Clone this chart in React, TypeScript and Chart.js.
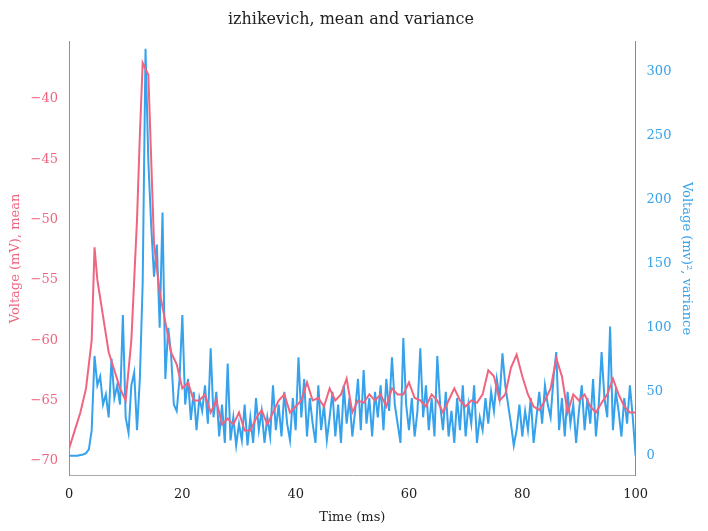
import { useEffect, useRef } from 'react'
import { Chart, registerables } from 'chart.js'

Chart.register(...registerables)

const meanTime = [0, 1, 2, 3, 4, 4.5, 5, 6, 7, 8, 9, 10, 11, 12, 12.5, 13, 14, 15, 16, 17, 18, 19, 20,
  21, 22, 23, 24, 25, 26, 27, 28, 29, 30, 31, 32, 33, 34, 35, 36, 37, 38, 39, 40, 41, 42, 43, 44, 45, 46,
  47, 48, 49, 50, 51, 52, 53, 54, 55, 56, 57, 58, 59, 60, 61, 62, 63, 64, 65, 66, 67, 68, 69, 70, 71, 72,
  73, 74, 75, 76, 77, 78, 79, 80, 81, 82, 83, 84, 85, 86, 87, 88, 89, 90, 91, 92, 93, 94, 95, 96, 97, 98, 99, 100]
const meanV = [-69, -67.5, -66, -64, -60, -52.3, -55, -58, -61, -62.5, -64, -65, -60, -50, -43, -37, -38, -52, -56, -58.5, -61, -62, -64,
  -63.5, -65, -65, -64.5, -66, -65, -67, -66.5, -67, -66, -67.5, -67.5, -66.5, -65.8, -67, -66, -65, -64.5, -66, -65.5, -65, -63.5, -65, -64.8, -65.5, -64,
  -65, -64.5, -63.2, -66, -65, -65.2, -64.5, -65, -64.5, -65.5, -64, -64.5, -64.5, -63.5, -64.8, -65, -65.5, -64.5, -65, -66, -65, -64, -65, -65.5, -65, -65.2,
  -64.5, -62.5, -63, -65, -64.5, -62.3, -61.2, -63, -64.5, -65.5, -65.8, -65, -64, -61.5, -63, -66, -64.5, -65, -64.5, -65.5, -66, -65.2, -64.5, -63.2, -64.5, -65.5, -66, -66]

const varStep = 0.5
const varV = [
  0, 0, 0, 0, 0.5, 1, 2, 5, 20, 78,
  55, 62, 40, 48, 30, 76, 45, 55, 40, 110,
  30, 18, 55, 65, 20, 60, 135, 318, 230, 180,
  140, 165, 100, 190, 60, 100, 80, 40, 35, 60,
  110, 40, 60, 28, 50, 20, 45, 35, 55, 25,
  84, 30, 50, 15, 40, 10, 72, 12, 30, 8,
  25, 12, 40, 8, 30, 10, 45, 20, 35, 10,
  30, 15, 55, 20, 40, 15, 50, 25, 12, 45,
  20, 77, 30, 60, 15, 45, 25, 10, 55, 20,
  40, 12, 30, 50, 15, 40, 10, 55, 25, 45,
  15, 35, 60, 20, 67, 25, 45, 15, 50, 30,
  55, 20, 60, 35, 77, 40, 25, 10, 92, 40,
  20, 45, 15, 35, 84, 30, 55, 20, 45, 15,
  78, 40, 20, 50, 15, 35, 10, 45, 20, 55,
  15, 40, 25, 55, 10, 30, 20, 45, 25, 50,
  35, 60, 45, 80, 55, 40, 25, 8, 20, 40,
  15, 35, 20, 45, 10, 30, 50, 25, 55, 40,
  30, 60, 81, 20, 45, 15, 50, 25, 40, 10,
  35, 55, 20, 45, 25, 60, 15, 40, 81, 45,
  30, 101, 20, 50, 35, 15, 45, 25, 55, 30,
  0,
]

const RED = 'rgb(240, 100, 127)'
const BLUE = 'rgb(54, 162, 235)'

export default function App() {
  const chartRef = useRef<HTMLCanvasElement>(null)

  useEffect(() => {
    if (!chartRef.current) return
    Chart.defaults.font.family = '"DejaVu Serif", serif'
    const chart = new Chart(chartRef.current, {
      type: 'line',
      data: {
        datasets: [
          {
            label: 'mean',
            data: meanTime.map((t, i) => ({ x: t, y: meanV[i] })),
            borderColor: RED,
            borderWidth: 2,
            pointRadius: 0,
            yAxisID: 'y',
          },
          {
            label: 'variance',
            data: varV.map((v, i) => ({ x: i * varStep, y: v })),
            borderColor: BLUE,
            borderWidth: 2,
            pointRadius: 0,
            yAxisID: 'y1',
          },
        ],
      },
      options: {
        animation: false,
        responsive: true,
        maintainAspectRatio: false,
        layout: { padding: { left: 4, right: 10, top: 0, bottom: 2 } },
        plugins: {
          legend: { display: false },
          tooltip: { enabled: false },
          title: {
            display: true,
            text: 'izhikevich, mean and variance',
            color: '#222',
            font: { size: 16, weight: 'normal' },
            padding: { top: 10, bottom: 12 },
          },
        },
        scales: {
          x: {
            type: 'linear',
            min: 0,
            max: 100,
            grid: { display: false, drawTicks: true },
            border: { color: '#aaa' },
            ticks: { stepSize: 20, color: '#222', font: { size: 13 } },
            title: { display: true, text: 'Time (ms)', color: '#222', font: { size: 13 } },
          },
          y: {
            position: 'left',
            min: -71.25,
            max: -35.2,
            grid: { display: false },
            border: { color: RED },
            afterBuildTicks: (ax) => { ax.ticks = [-70, -65, -60, -55, -50, -45, -40].map((v) => ({ value: v })) },
            ticks: { color: RED, font: { size: 13 }, callback: (v) => '\u2212' + Math.abs(Number(v)) },
            title: { display: true, text: 'Voltage (mV), mean', color: RED, font: { size: 13 } },
          },
          y1: {
            position: 'right',
            min: -15.7,
            max: 324,
            grid: { display: false },
            border: { color: BLUE },
            afterBuildTicks: (ax) => { ax.ticks = [0, 50, 100, 150, 200, 250, 300].map((v) => ({ value: v })) },
            ticks: { color: BLUE, font: { size: 13 } },
            title: { display: true, text: 'Voltage (mv)\u00b2, variance', color: BLUE, font: { size: 13 } },
          },
        },
      },
    })
    return () => chart.destroy()
  }, [])

  return (
    <div style={{ position: 'fixed', left: 0, top: 0, width: 708, height: 531, background: '#fff' }}>
      <canvas ref={chartRef} />
    </div>
  )
}
